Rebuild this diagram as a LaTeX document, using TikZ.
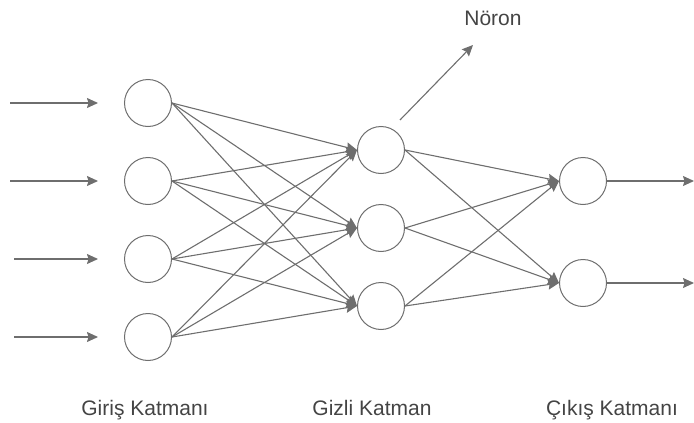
\documentclass[tikz,border=0pt]{standalone}
\usepackage{fontspec}
\setmainfont{Liberation Sans}
\usetikzlibrary{arrows.meta}
\definecolor{linegray}{HTML}{6E6E6E}
\definecolor{textgray}{HTML}{444444}
\begin{document}
\begin{tikzpicture} [x = 1pt, y = -1pt, -> , >= {Stealth[length = 11pt, width = 10pt, inset = 1.5pt]}, line width = 1.1pt, draw = linegray, color = linegray, node distance = 78pt, font = \fontsize{21}{24}\selectfont, text = textgray]
        \useasboundingbox (0,0) rectangle (694,423);

        \tikzset{neuron/.style = {draw = linegray, circle, minimum size = 47pt, inner sep = 0pt, line width = 1pt},
                 layername/.style = {anchor = base, inner sep = 0pt}}

        \node [neuron] (x1) at (148,103) {};
        \node [neuron] (x2) [below of = x1] {};
        \node [neuron] (x3) [below of = x2] {};
        \node [neuron] (x4) [below of = x3] {};

        \node [neuron] (h1) at (381,150) {};
        \node [neuron] (h2) [below of = h1] {};
        \node [neuron] (h3) [below of = h2] {};

        \node [neuron] (y1) at (583,181) {};
        \node [neuron] (y2) [below of = y1, node distance = 102pt] {};

        \coordinate (in1) at (10,103);
        \coordinate (in2) at (10,181);
        \coordinate (in3) at (14,259);
        \coordinate (in4) at (14,337);
        \coordinate (out1) at (694,181);
        \coordinate (out2) at (694,283);

        \path [shorten >= 26pt] (in1) edge (x1.west);
        \path [shorten >= 26pt] (in2) edge (x2.west);
        \path [shorten >= 26pt] (in3) edge (x3.west);
        \path [shorten >= 26pt] (in4) edge (x4.west);

        \path (x1.east) edge (h1.west) edge (h2.west) edge (h3.west);
        \path (x2.east) edge (h1.west) edge (h2.west) edge (h3.west);
        \path (x3.east) edge (h1.west) edge (h2.west) edge (h3.west);
        \path (x4.east) edge (h1.west) edge (h2.west) edge (h3.west);

        \path (h1.east) edge (y1.west) edge (y2.west);
        \path (h2.east) edge (y1.west) edge (y2.west);
        \path (h3.east) edge (y1.west) edge (y2.west);

        \path (y1.east) edge (out1);
        \path (y2.east) edge (out2);

        \coordinate (nfrom) at (400,120);
        \coordinate (nto) at (473,45);
        \path (nfrom) edge (nto);
        \node [layername] (noron) at (493,25) {Nöron};

        \node [layername] (giris) at (145,415) {Giriş Katmanı};
        \node [layername] (gizli) at (372,415) {Gizli Katman};
        \node [layername] (cikis) at (612,415) {Çıkış Katmanı};

    \end{tikzpicture}
\end{document}
